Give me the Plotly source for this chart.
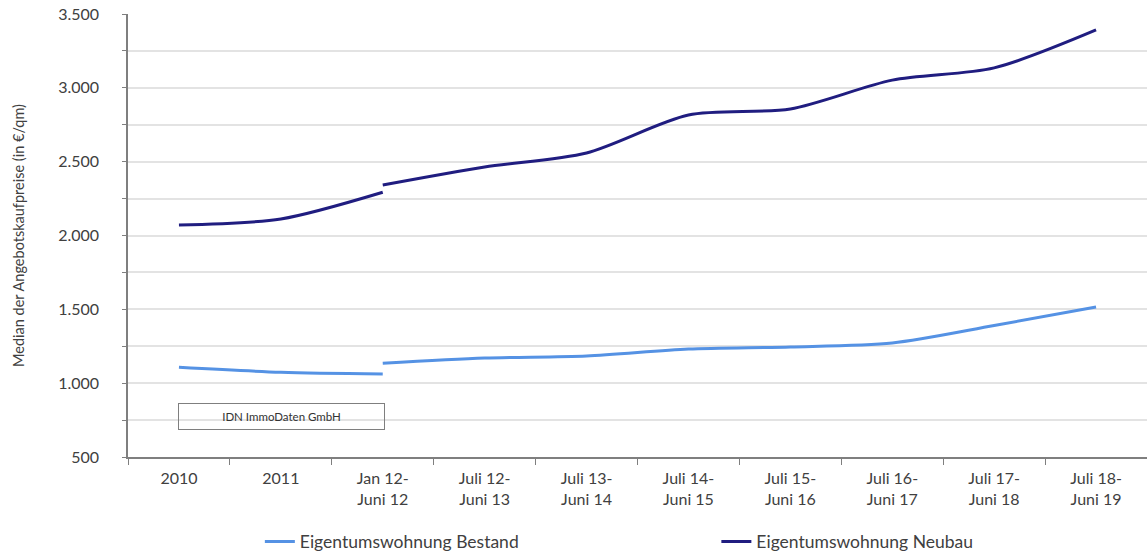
import plotly.graph_objects as go

# Zeiträume (Kategorien der x-Achse)
perioden = [
    "2010", "2011", "Jan 12-<br>Juni 12", "Juli 12-<br>Juni 13", "Juli 13-<br>Juni 14",
    "Juli 14-<br>Juni 15", "Juli 15-<br>Juni 16", "Juli 16-<br>Juni 17",
    "Juli 17-<br>Juni 18", "Juli 18-<br>Juni 19",
]

# Jahreswerte 2010 bis 2012
perioden_jahr = perioden[:3]
bestand_jahr = [1107, 1074, 1062]
neubau_jahr = [2071, 2112, 2293]

# Halbjahres-Zeiträume ab Januar 2012
perioden_halbjahr = perioden[2:]
bestand_halbjahr = [1135, 1170, 1184, 1231, 1245, 1272, 1390, 1516]
neubau_halbjahr = [2342, 2464, 2559, 2816, 2857, 3052, 3135, 3392]

y_ticks = [500, 1000, 1500, 2000, 2500, 3000, 3500]

FARBE_BESTAND = "#5592E4"
FARBE_NEUBAU = "#201D80"
SCHRIFT = "Lato, 'Open Sans', sans-serif"
TEXTFARBE = "#404040"

fig = go.Figure()

for name, farbe, x_teil, y_teil, legende, legendname in [
    ("Eigentumswohnung Bestand", FARBE_BESTAND, perioden_jahr, bestand_jahr, False, "legend"),
    ("Eigentumswohnung Bestand", FARBE_BESTAND, perioden_halbjahr, bestand_halbjahr, True, "legend"),
    ("Eigentumswohnung Neubau", FARBE_NEUBAU, perioden_jahr, neubau_jahr, False, "legend2"),
    ("Eigentumswohnung Neubau", FARBE_NEUBAU, perioden_halbjahr, neubau_halbjahr, True, "legend2"),
]:
    fig.add_trace(go.Scatter(
        x=x_teil, y=y_teil, name=name, mode="lines",
        line=dict(color=farbe, width=3, shape="spline", smoothing=0.8),
        showlegend=legende, legend=legendname, hoverinfo="skip",
    ))

legenden_stil = dict(
    orientation="h", y=-0.191, xanchor="left", yanchor="middle",
    font=dict(size=17.5, color=TEXTFARBE), bgcolor="rgba(0,0,0,0)",
)

fig.update_layout(
    width=1147, height=554,
    margin=dict(l=128, r=0, t=14, b=97, autoexpand=False),
    paper_bgcolor="white", plot_bgcolor="white",
    separators=",.",
    font=dict(family=SCHRIFT, size=14, color=TEXTFARBE),
    showlegend=True,
    legend=dict(x=0.1294, **legenden_stil),
    legend2=dict(x=0.5774, **legenden_stil),
    annotations=[dict(
        text="IDN ImmoDaten GmbH", xref="paper", yref="paper",
        x=0.1506, y=0.0914, xanchor="center", yanchor="middle",
        showarrow=False, width=203, height=23, borderpad=1,
        bordercolor="#7f7f7f", borderwidth=1,
        font=dict(size=11.5, color="#333333"),
    )],
)

fig.update_xaxes(
    type="category", categoryorder="array", categoryarray=perioden,
    range=[-0.5, 9.5], tickson="boundaries", ticks="outside", ticklen=6,
    tickcolor="#7f7f7f", showline=True, linecolor="#7f7f7f", linewidth=1.5,
    showgrid=False, tickfont=dict(size=16, color=TEXTFARBE), ticklabelstandoff=6,
)

fig.update_yaxes(
    range=[500, 3500], tickvals=y_ticks, tickformat=",d",
    ticks="outside", ticklen=4, tickcolor="#7f7f7f",
    showline=True, linecolor="#7f7f7f", linewidth=1.5,
    showgrid=True, gridcolor="#e3e3e3", gridwidth=1.5, zeroline=False,
    minor=dict(dtick=250, tick0=500, showgrid=True, gridcolor="#e3e3e3", gridwidth=1.5,
               ticks="outside", ticklen=4, tickcolor="#7f7f7f"),
    tickfont=dict(size=16, color=TEXTFARBE), ticklabelstandoff=20,
    title=dict(text="Median der Angebotskaufpreise (in €/qm)", standoff=30,
               font=dict(size=14.5, color=TEXTFARBE)),
)

fig.write_html("out.html")
